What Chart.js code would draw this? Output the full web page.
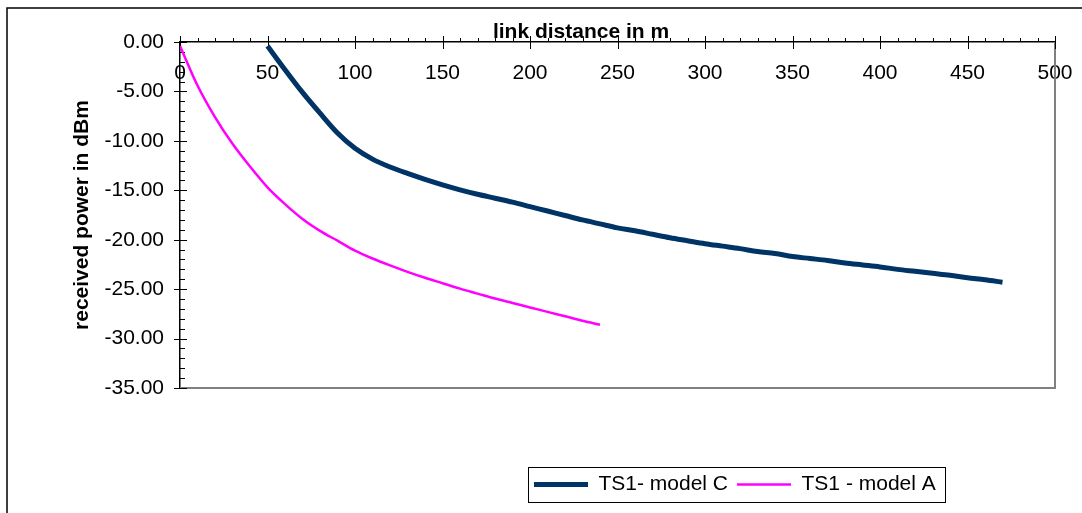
<!DOCTYPE html>
<html>
<head>
<meta charset="utf-8">
<script src="https://cdn.jsdelivr.net/npm/chart.js@4/dist/chart.umd.min.js"></script>
<style>
  body { margin: 0; background: #fff; }
  canvas { display: block; }
</style>
</head>
<body>
<canvas id="chart" width="1082" height="513"></canvas>
<script>
// link distance (m) and received power (dBm)
const distC = [50, 60, 70, 80, 90, 100, 110, 120, 130, 140, 150, 160, 170, 180, 190, 200, 210, 220, 230, 240,
    250, 260, 270, 280, 290, 300, 310, 320, 330, 340, 350, 360, 370, 380, 390, 400, 410, 420, 430, 440, 450, 460, 470]
const powerC = [-0.4, -2.8, -5.1, -7.2, -9.2, -10.75, -11.85, -12.65, -13.3, -13.9, -14.45, -14.95, -15.4, -15.8, -16.2,
    -16.65, -17.1, -17.55, -18.0, -18.4, -18.8, -19.1, -19.45, -19.8, -20.1, -20.4, -20.65, -20.9, -21.2, -21.4,
    -21.7, -21.9, -22.1, -22.35, -22.55, -22.75, -23.0, -23.2, -23.4, -23.6, -23.85, -24.05, -24.3]

const distA = [0, 10, 20, 30, 40, 50, 60, 70, 80, 90, 100, 110, 120, 130, 140, 150, 160, 170, 180, 190, 200, 210, 220, 230, 240]
const powerA = [-0.4, -4.4, -7.6, -10.3, -12.6, -14.7, -16.4, -17.9, -19.1, -20.1, -21.1, -21.9, -22.6, -23.25, -23.85,
    -24.4, -24.95, -25.45, -25.95, -26.4, -26.85, -27.3, -27.75, -28.2, -28.6]

const seriesNames = ['TS1- model C', 'TS1 - model A']
const xTitle = 'link distance in m'
const yTitle = 'received power in dBm'

Chart.defaults.font.family = "'Liberation Sans', Arial, sans-serif"
Chart.defaults.font.size = 21
Chart.defaults.color = '#000'

const toPoints = (xs, ys) => xs.map((x, i) => ({ x: x, y: ys[i] }))

// excel look: frame, tick marks, axis title, legend box
const excelLook = {
    id: 'excelLook',
    afterLayout(chart) {
        const lg = chart.legend
        const pad = lg.options.labels.padding
        const w = lg.right - lg.left
        const h = lg.bottom - lg.top
        lg.left = 534 - pad
        lg.right = lg.left + w
        lg.top = 474 - pad
        lg.bottom = lg.top + h
    },
    beforeDatasetsDraw(chart) {
        const { ctx, chartArea: a } = chart
        const xs = chart.scales.x
        const ys = chart.scales.y
        ctx.save()
        // plot area right / bottom edge
        ctx.strokeStyle = '#808080'
        ctx.lineWidth = 2
        ctx.beginPath()
        ctx.moveTo(a.left, a.bottom)
        ctx.lineTo(a.right, a.bottom)
        ctx.lineTo(a.right, a.top)
        ctx.stroke()

        ctx.strokeStyle = '#000'
        ctx.lineWidth = 1
        ctx.beginPath()
        for (let v = xs.min; v <= xs.max; v += 10) {
            const px = Math.round(xs.getPixelForValue(v)) + 0.5
            const major = v % 50 === 0
            ctx.moveTo(px, a.top - (major ? 6 : 4))
            ctx.lineTo(px, a.top + (major ? 7 : 0))
        }
        for (let v = ys.min; v <= ys.max; v += 1) {
            const py = Math.round(ys.getPixelForValue(v)) + 0.5
            const major = v % 5 === 0
            ctx.moveTo(a.left - (major ? 6 : 0), py)
            ctx.lineTo(a.left + (major ? 7 : 5), py)
        }
        ctx.stroke()
        ctx.restore()
    },
    afterDraw(chart) {
        const { ctx } = chart
        ctx.save()
        // outer chart frame
        ctx.strokeStyle = '#000'
        ctx.lineWidth = 1.5
        ctx.beginPath()
        ctx.moveTo(7, chart.height)
        ctx.lineTo(7, 8)
        ctx.lineTo(chart.width, 8)
        ctx.stroke()
        // legend box
        ctx.lineWidth = 1
        ctx.strokeRect(528.5, 467.5, 417, 35)
        // x axis title
        ctx.fillStyle = '#000'
        ctx.font = "bold 21px 'Liberation Sans', Arial, sans-serif"
        ctx.textAlign = 'center'
        ctx.textBaseline = 'alphabetic'
        ctx.fillText(xTitle, 581, 37.5)
        ctx.restore()
    }
}

new Chart(document.getElementById('chart'), {
    type: 'line',
    data: {
        datasets: [{
            label: seriesNames[0],
            data: toPoints(distC, powerC),
            borderColor: '#003366',
            borderWidth: 5,
            pointRadius: 0,
            cubicInterpolationMode: 'monotone',
            fill: false
        }, {
            label: seriesNames[1],
            data: toPoints(distA, powerA),
            borderColor: '#ff00ff',
            borderWidth: 2.5,
            pointRadius: 0,
            cubicInterpolationMode: 'monotone',
            fill: false
        }]
    },
    options: {
        responsive: false,
        animation: false,
        devicePixelRatio: 1,
        layout: { padding: { left: 66, top: 32, right: 27, bottom: 85 } },
        plugins: {
            tooltip: { enabled: false },
            legend: {
                position: 'bottom',
                align: 'start',
                labels: {
                    usePointStyle: true,
                    pointStyle: 'line',
                    pointStyleWidth: 54,
                    padding: 9,
                    color: '#000'
                }
            }
        },
        scales: {
            x: {
                type: 'linear',
                position: 'top',
                min: 0,
                max: 500,
                afterFit: s => { s.height = 10; s.paddingLeft = 0; s.paddingRight = 0 },
                grid: { display: false, drawTicks: false },
                border: { display: true, color: '#000', width: 1.5 },
                ticks: { stepSize: 50, mirror: true, padding: 19, maxRotation: 0, autoSkip: false, color: '#000' }
            },
            y: {
                type: 'linear',
                position: 'left',
                min: -35,
                max: 0,
                afterFit: s => { s.width = 114 },
                grid: { display: false, drawTicks: false },
                border: { display: true, color: '#000', width: 1.5 },
                ticks: { stepSize: 5, padding: 16, color: '#000', callback: v => v.toFixed(2) },
                title: {
                    display: true,
                    text: yTitle,
                    padding: { top: 3.5, bottom: 0 },
                    font: { weight: 'bold', size: 21 },
                    color: '#000'
                }
            }
        }
    },
    plugins: [excelLook]
})
</script>
</body>
</html>
